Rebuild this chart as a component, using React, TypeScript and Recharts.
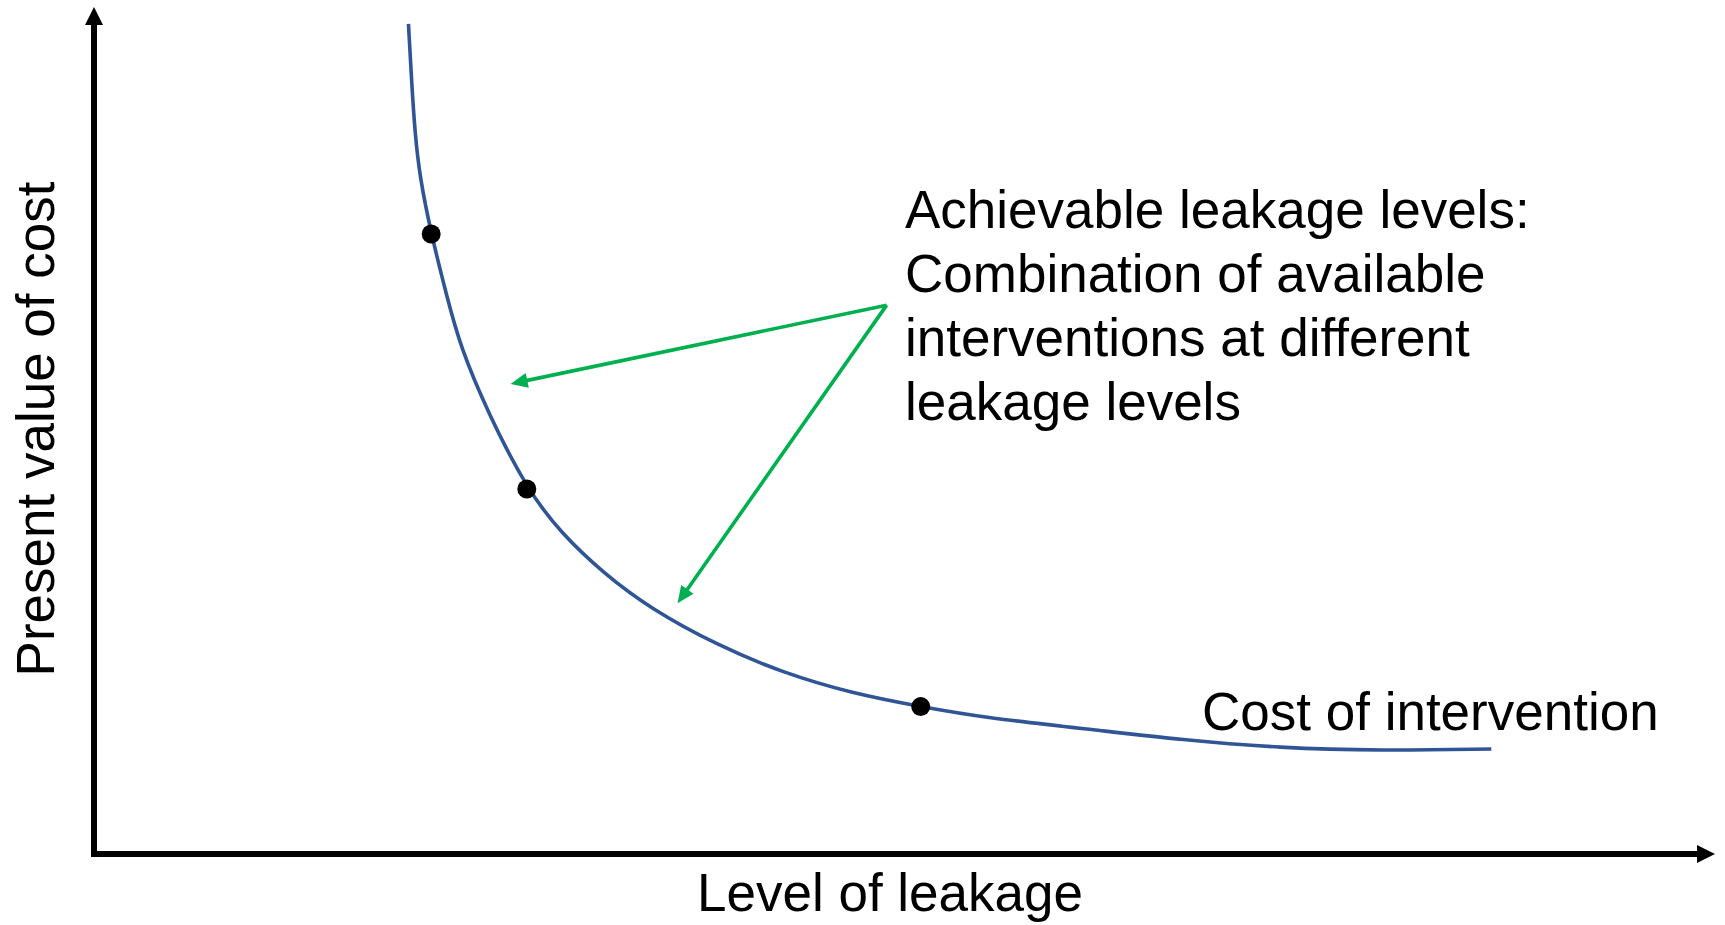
import { ComposedChart, Line, XAxis, YAxis, ReferenceLine } from "recharts";

const W = 1725;
const H = 925;

// level of leakage (x) vs present value of cost (y), arbitrary 0–100 units
const curveX = [19.4, 19.6, 19.8, 20.1, 20.8, 21.8, 22.6, 24.3, 26.7, 28.8, 31.4, 34.3, 38.5, 42.5, 46.7, 51.0, 54.9, 62.0, 67.0, 73.2, 79.4, 86.2];
const curveY = [98.0, 91.0, 85.1, 79.9, 73.2, 65.6, 59.9, 52.1, 43.1, 37.9, 33.2, 29.0, 24.6, 21.4, 19.0, 17.4, 16.1, 14.6, 13.5, 12.5, 12.2, 12.4];

// achievable leakage levels (the black dots)
const pointX = [20.8, 26.7, 51.0];
const pointY = [73.2, 43.1, 17.4];

// green callout arrows: common start, two tips
const calloutStart = { x: 48.9, y: 64.8 };
const calloutTipX = [25.7, 36.0];
const calloutTipY = [55.5, 29.6];

const noteLines = [
  "Achievable leakage levels:",
  "Combination of available",
  "interventions at different",
  "leakage levels",
];

const curveData = curveX.map((x, i) => ({ x, y: curveY[i] }));
const pointData = pointX.map((x, i) => ({ x, y: pointY[i] }));

const FONT = '"Liberation Sans", Arial, Helvetica, sans-serif';

// draws a straight arrow between the pixel ends the reference line hands over
function arrowShape(color: string, width: number, headLen: number, headHalf: number, back = 0) {
  return (p: any) => {
    const { x1, y1, x2, y2 } = p;
    const dx = x2 - x1;
    const dy = y2 - y1;
    const len = Math.hypot(dx, dy) || 1;
    const ux = dx / len;
    const uy = dy / len;
    const bx = x2 - ux * headLen;
    const by = y2 - uy * headLen;
    const nx = -uy;
    const ny = ux;
    return (
      <g>
        <line
          x1={x1 - ux * back}
          y1={y1 - uy * back}
          x2={bx + ux}
          y2={by + uy}
          stroke={color}
          strokeWidth={width}
        />
        <polygon
          points={`${x2},${y2} ${bx + nx * headHalf},${by + ny * headHalf} ${bx - nx * headHalf},${by - ny * headHalf}`}
          fill={color}
        />
      </g>
    );
  };
}

export default function App() {
  return (
    <div style={{ position: "fixed", left: 0, top: 0, width: W, height: H, background: "#fff" }}>
      <ComposedChart width={W} height={H} margin={{ top: 7, right: 10, bottom: 71, left: 94 }}>
        <XAxis type="number" dataKey="x" domain={[0, 100]} hide />
        <YAxis type="number" dataKey="y" domain={[0, 100]} hide />

        {/* axes with arrow heads */}
        <ReferenceLine
          segment={[{ x: 0, y: 0 }, { x: 0, y: 100 }]}
          ifOverflow="visible"
          shape={arrowShape("#000", 6, 18, 9, 3)}
        />
        <ReferenceLine
          segment={[{ x: 0, y: 0 }, { x: 100, y: 0 }]}
          ifOverflow="visible"
          shape={arrowShape("#000", 6, 18, 9, 3)}
        />

        {/* callout arrows */}
        {calloutTipX.map((tx, i) => (
          <ReferenceLine
            key={`call-${i}`}
            segment={[calloutStart, { x: tx, y: calloutTipY[i] }]}
            ifOverflow="visible"
            shape={arrowShape("#00B050", 3.6, 17, 7.5)}
          />
        ))}

        <Line
          data={curveData}
          type="basis"
          dataKey="y"
          stroke="#2F5597"
          strokeWidth={3.6}
          dot={false}
          activeDot={false}
          isAnimationActive={false}
        />
        <Line
          data={pointData}
          dataKey="y"
          stroke="none"
          dot={{ r: 9.5, fill: "#000", stroke: "none" }}
          activeDot={false}
          isAnimationActive={false}
        />
      </ComposedChart>

      <svg
        width={W}
        height={H}
        style={{ position: "absolute", left: 0, top: 0, pointerEvents: "none" }}
        fontFamily={FONT}
        fontSize={53}
        fill="#000"
      >
        {noteLines.map((t, i) => (
          <text key={t} x={905} y={228 + i * 64}>
            {t}
          </text>
        ))}
        <text x={1202} y={730}>Cost of intervention</text>
        <text x={890} y={911} textAnchor="middle">
          Level of leakage
        </text>
        <text x={54} y={429} textAnchor="middle" transform="rotate(-90 54 429)">
          Present value of cost
        </text>
      </svg>
    </div>
  );
}
